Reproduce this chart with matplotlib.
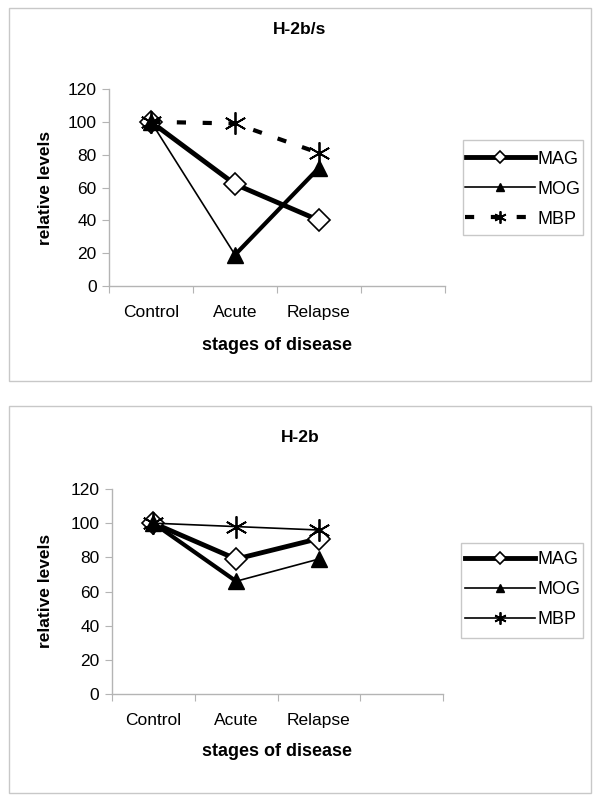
import matplotlib
matplotlib.use("Agg")
import numpy as np
from matplotlib import pyplot as plt
from matplotlib.patches import Rectangle

plt.rcParams['font.family'] = ['Liberation Sans', 'DejaVu Sans']

#data
stages = ["Control", "Acute", "Relapse"]
series = ["MAG", "MOG", "MBP"]

top_mag = [100, 62, 40]
top_mog = [100, 19, 72]
top_mbp = [100, 99, 81]

bot_mag = [100, 79, 91]
bot_mog = [100, 66, 79]
bot_mbp = [100, 98, 96]

x = np.arange(len(stages)) + 0.5
star = (6, 2, 0)	#excel style asterisk
grey = "#b4b4b4"

fig = plt.figure(figsize=(6, 8.01), dpi=100)


def frame(x0, y0, x1, y1):
	#box given in pixels from the top left corner
	fig.patches.append(Rectangle((x0/600, 1-y1/801), (x1-x0)/600, (y1-y0)/801,
		transform=fig.transFigure, fill=False, edgecolor="#c8c8c8", lw=1))


#panel frames
frame(9, 8, 591, 381)
frame(9, 406, 591, 793)


def style_axes(ax):
	ax.set_xlim(0, 4)
	ax.set_ylim(0, 120)
	ax.set_yticks(range(0, 121, 20))
	ax.set_xticks(range(5))
	ax.set_xticklabels([])
	ax.set_xticks(x, minor=True)
	ax.set_xticklabels(stages, minor=True)
	ax.tick_params(axis="x", which="minor", length=0, pad=14, labelsize=12.5)
	ax.tick_params(axis="x", which="major", length=5, color=grey)
	ax.tick_params(axis="y", length=5, color=grey, labelsize=12.5, pad=4)
	for s in ["top", "right"]:
		ax.spines[s].set_visible(False)
	for s in ["left", "bottom"]:
		ax.spines[s].set_color(grey)
		ax.spines[s].set_linewidth(1)
	ax.patch.set_visible(False)


def add_legend(ax, ycen):
	ax.legend(loc="center left", bbox_to_anchor=(465/600, 1-ycen/801), bbox_transform=fig.transFigure,
		frameon=False, fontsize=13, handlelength=3.9, markerscale=0.55,
		labelspacing=0.72, handletextpad=0.1, borderpad=0, borderaxespad=0)


#top panel: H-2b/s
ax1 = fig.add_axes([109/600, 515/801, 336/600, 197/801])
ax1.plot(x, top_mag, color="k", lw=3.5, marker="D", ms=11, mfc="white", mec="k", mew=1.2, label="MAG")
ax1.plot(x, top_mog, color="k", lw=1.2, marker="^", ms=11, label="MOG")
ax1.plot(x[1:], top_mog[1:], color="k", lw=3, solid_capstyle="round")
ax1.plot(x, top_mbp, color="k", lw=3, ls=(0, (2.2, 4)), marker=star, ms=16, mew=1.3, label="MBP")
style_axes(ax1)
add_legend(ax1, 189)
frame(463, 140, 583, 235)

fig.text(300/600, 1-29/801, "H-2b/s", ha="center", va="center", fontsize=12.5, fontweight="bold")
fig.text(277/600, 1-346/801, "stages of disease", ha="center", va="center", fontsize=13, fontweight="bold")
fig.text(45/600, 1-188/801, "relative levels", ha="center", va="center", rotation=90, fontsize=12.5, fontweight="bold")

#bottom panel: H-2b
ax2 = fig.add_axes([112/600, 107/801, 331/600, 205/801])
ax2.plot(x, bot_mag, color="k", lw=3.5, marker="D", ms=11, mfc="white", mec="k", mew=1.2, label="MAG")
ax2.plot(x, bot_mog, color="k", lw=1.2, marker="^", ms=11, label="MOG")
ax2.plot(x[:2], bot_mog[:2], color="k", lw=3, solid_capstyle="round")
ax2.plot(x, bot_mbp, color="k", lw=1.2, marker=star, ms=16, mew=1.3, label="MBP")
style_axes(ax2)
add_legend(ax2, 590)
frame(461, 543, 583, 638)

fig.text(300/600, 1-437/801, "H-2b", ha="center", va="center", fontsize=12.5, fontweight="bold")
fig.text(277/600, 1-752/801, "stages of disease", ha="center", va="center", fontsize=13, fontweight="bold")
fig.text(45/600, 1-591/801, "relative levels", ha="center", va="center", rotation=90, fontsize=12.5, fontweight="bold")

fig.savefig("out.png", dpi=100)
